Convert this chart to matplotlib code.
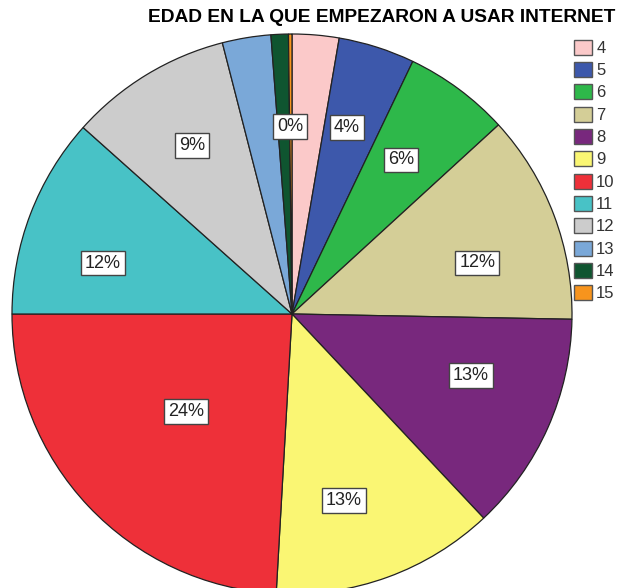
import numpy as np
import matplotlib
matplotlib.use("Agg")
import matplotlib.pyplot as plt

plt.rcParams['font.family'] = ['Liberation Sans', 'DejaVu Sans']

edades = ['4', '5', '6', '7', '8', '9', '10', '11', '12', '13', '14', '15']
porcentajes = [2.7, 4.4, 6.1, 12.1, 12.7, 12.9, 24.1, 11.6, 9.4, 2.8, 1.0, 0.2]
etiquetas = ['', '4%', '6%', '12%', '13%', '13%', '24%', '12%', '9%', '', '', '0%']
colores = ['#FBC9C9', '#3D58AB', '#2EB84A', '#D4CE97', '#78287D', '#FAF673',
           '#EE3039', '#48C2C6', '#CCCCCC', '#7AA8D8', '#0F5530', '#F7941D']
# label placement: clock angle (deg, clockwise from top) and fraction of radius
ang_etiq = [0, 16.4, 35.3, 74.6, 109.1, 164.4, 227.5, 285.1, 329.4, 0, 0, 359.4]
dist_etiq = [0, 0.696, 0.674, 0.686, 0.676, 0.69, 0.513, 0.699, 0.70, 0, 0, 0.668]

W, H = 622, 588
cx, cy, R = 292, 314, 280

fig = plt.figure(figsize=(W / 100, H / 100), dpi=100)
ax = fig.add_axes([0, 0, 1, 1])

wedges, _ = ax.pie(porcentajes, colors=colores, startangle=90, counterclock=False,
                   radius=1, wedgeprops=dict(edgecolor='#222222', linewidth=0.9))
ax.set_xlim(-cx / R, (W - cx) / R)
ax.set_ylim((cy - H) / R, cy / R)
ax.axis('off')

for lab, a, d in zip(etiquetas, ang_etiq, dist_etiq):
    if not lab:
        continue
    t = np.deg2rad(a)
    ax.text(d * np.sin(t), d * np.cos(t), lab, ha='center', va='center',
            fontsize=13, color='#222222',
            bbox=dict(boxstyle='square,pad=0.22', facecolor='white',
                      edgecolor='#444444', linewidth=1))

fig.text(382 / W, 1 - 18 / H, 'EDAD EN LA QUE EMPEZARON A USAR INTERNET',
         ha='center', va='center', fontsize=13.8, fontweight='bold')

leg = fig.legend(wedges, edades, loc='upper left', bbox_to_anchor=(567 / W, 1 - 33 / H),
                 frameon=False, fontsize=12, handlelength=1.1, handleheight=1.0,
                 handletextpad=0.25, labelspacing=0.37, borderaxespad=0)
for p in leg.get_patches():
    p.set_edgecolor('#555555')
    p.set_linewidth(1)
for t in leg.get_texts():
    t.set_color('#333333')

fig.savefig('out.png', dpi=100)
